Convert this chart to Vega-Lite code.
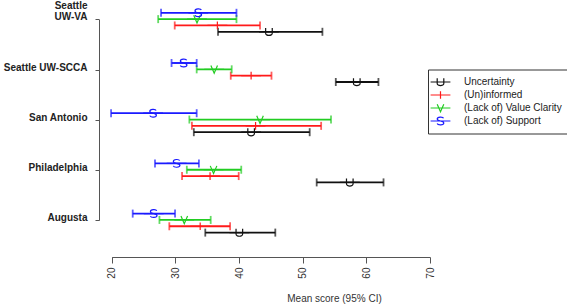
{
  "$schema": "https://vega.github.io/schema/vega-lite/v6.json",
  "width": 344,
  "height": 257,
  "autosize": {"type": "none"},
  "padding": {"left": 99, "top": 0, "right": 124, "bottom": 48},
  "background": "white",
  "config": {"view": {"stroke": null}, "font": "Liberation Sans"},
  "data": {
    "values": [
      {"site": "Seattle UW-VA", "series": "Uncertainty", "mean": 44.7, "lo": 36.7, "hi": 53.1},
      {"site": "Seattle UW-VA", "series": "(Un)informed", "mean": 36.6, "lo": 29.9, "hi": 43.3},
      {"site": "Seattle UW-VA", "series": "(Lack of) Value Clarity", "mean": 33.4, "lo": 27.3, "hi": 39.6},
      {"site": "Seattle UW-VA", "series": "(Lack of) Support", "mean": 33.6, "lo": 27.75, "hi": 39.6},
      {"site": "Seattle UW-SCCA", "series": "Uncertainty", "mean": 58.5, "lo": 55.2, "hi": 61.9},
      {"site": "Seattle UW-SCCA", "series": "(Un)informed", "mean": 41.9, "lo": 38.7, "hi": 45.1},
      {"site": "Seattle UW-SCCA", "series": "(Lack of) Value Clarity", "mean": 36.1, "lo": 33.35, "hi": 38.85},
      {"site": "Seattle UW-SCCA", "series": "(Lack of) Support", "mean": 31.3, "lo": 29.4, "hi": 33.35},
      {"site": "San Antonio", "series": "Uncertainty", "mean": 41.9, "lo": 32.9, "hi": 51.1},
      {"site": "San Antonio", "series": "(Un)informed", "mean": 42.6, "lo": 32.6, "hi": 52.9},
      {"site": "San Antonio", "series": "(Lack of) Value Clarity", "mean": 43.3, "lo": 32.2, "hi": 54.45},
      {"site": "San Antonio", "series": "(Lack of) Support", "mean": 26.5, "lo": 19.9, "hi": 33.35},
      {"site": "Philadelphia", "series": "Uncertainty", "mean": 57.4, "lo": 52.2, "hi": 62.7},
      {"site": "Philadelphia", "series": "(Un)informed", "mean": 35.45, "lo": 31.05, "hi": 39.95},
      {"site": "Philadelphia", "series": "(Lack of) Value Clarity", "mean": 36.0, "lo": 31.8, "hi": 40.35},
      {"site": "Philadelphia", "series": "(Lack of) Support", "mean": 30.2, "lo": 26.8, "hi": 33.7},
      {"site": "Augusta", "series": "Uncertainty", "mean": 40.05, "lo": 34.7, "hi": 45.7},
      {"site": "Augusta", "series": "(Un)informed", "mean": 33.9, "lo": 29.05, "hi": 38.6},
      {"site": "Augusta", "series": "(Lack of) Value Clarity", "mean": 31.4, "lo": 27.5, "hi": 35.55},
      {"site": "Augusta", "series": "(Lack of) Support", "mean": 26.6, "lo": 23.3, "hi": 29.95}
    ]
  },
  "encoding": {
    "y": {
      "field": "site",
      "type": "nominal",
      "scale": {
        "type": "point",
        "domain": ["Seattle UW-VA", "Seattle UW-SCCA", "San Antonio", "Philadelphia", "Augusta"],
        "range": [19.3, 220.1],
        "padding": 0
      },
      "axis": {
        "title": null,
        "domainColor": "#555",
        "tickColor": "#555",
        "tickSize": 4,
        "labelPadding": 8,
        "labelFontSize": 10,
        "labelFontWeight": "bold",
        "labelColor": "#222",
        "labelBaseline": "alphabetic",
        "labelOffset": {"condition": {"test": "datum.value === 'Seattle UW-VA'", "value": -10.5}, "value": 0.5},
        "labelExpr": "datum.value === 'Seattle UW-VA' ? ['Seattle', 'UW-VA'] : datum.value",
        "labelLineHeight": 11,
        "labelLimit": 200
      }
    },
    "yOffset": {
      "field": "series",
      "type": "nominal",
      "scale": {
        "type": "point",
        "domain": ["Uncertainty", "(Un)informed", "(Lack of) Value Clarity", "(Lack of) Support"],
        "range": [12.5, -6.5],
        "padding": 0
      }
    },
    "color": {
      "field": "series",
      "type": "nominal",
      "scale": {
        "domain": ["Uncertainty", "(Un)informed", "(Lack of) Value Clarity", "(Lack of) Support"],
        "range": ["#111111", "#ff1a1a", "#22cc22", "#1a1aff"]
      },
      "legend": {
        "title": null,
        "orient": "none",
        "legendX": 329,
        "legendY": 69.5,
        "padding": 6,
        "strokeColor": "#333",
        "symbolSize": 121,
        "symbolStrokeWidth": 1.2,
        "labelFontSize": 10,
        "labelFont": "Liberation Sans",
        "labelColor": "#222",
        "labelOffset": 17,
        "rowPadding": 0,
        "labelLimit": 300,
        "encode": {"symbols": {"update": {"fillOpacity": {"value": 0}, "fill": {"value": "transparent"}}}}
      }
    }
  },
  "layer": [
    {
      "mark": {"type": "rule", "strokeWidth": 1.8},
      "encoding": {
        "x": {
          "field": "lo",
          "type": "quantitative",
          "scale": {"domain": [20, 70], "range": [12.7, 331], "nice": false, "zero": false},
          "axis": {
            "title": "Mean score (95% CI)",
            "values": [20, 30, 40, 50, 60, 70],
            "grid": false,
            "tickSize": 6,
            "labelAngle": 270,
            "labelPadding": 4,
            "labelFontSize": 10,
            "labelColor": "#333",
            "labelFlush": false,
            "domainColor": "#555",
            "tickColor": "#555",
            "titleFontSize": 10,
            "titleFontWeight": "normal",
            "titleColor": "#333",
            "titleX": 235,
            "titleY": 44,
            "titleBaseline": "alphabetic",
            "titleAlign": "center"
          }
        },
        "x2": {"field": "hi"}
      }
    },
    {
      "mark": {"type": "tick", "size": 8, "thickness": 1.8},
      "encoding": {"x": {"field": "lo", "type": "quantitative"}}
    },
    {
      "mark": {"type": "tick", "size": 8, "thickness": 1.8},
      "encoding": {"x": {"field": "hi", "type": "quantitative"}}
    },
    {
      "mark": {"type": "point", "filled": false, "fill": "transparent", "fillOpacity": 0, "size": 121, "strokeWidth": 1.2, "opacity": 1},
      "encoding": {
        "x": {"field": "mean", "type": "quantitative"},
        "shape": {
          "field": "series",
          "type": "nominal",
          "scale": {
            "domain": ["Uncertainty", "(Un)informed", "(Lack of) Value Clarity", "(Lack of) Support"],
            "range": [
              "M-1.8,0L1.8,0M-0.6,-0.7L-0.6,0.25C-0.6,0.8 0.6,0.8 0.6,0.25L0.6,-0.7",
              "M-1.8,0L1.8,0M0,-0.7L0,0.7",
              "M-1.8,0L1.8,0M-0.6,-0.7L0,0.7L0.6,-0.7",
              "M-1.8,0L1.8,0M0.55,-0.5C0.45,-0.8 -0.6,-0.8 -0.6,-0.35C-0.6,0.05 0.6,-0.05 0.6,0.35C0.6,0.8 -0.5,0.8 -0.6,0.45"
            ]
          },
          "legend": {
            "title": null,
            "orient": "none",
            "legendX": 329,
            "legendY": 69.5,
            "padding": 6,
            "strokeColor": "#333",
            "symbolSize": 121,
            "symbolStrokeWidth": 1.2,
            "labelFontSize": 10,
            "labelFont": "Liberation Sans",
            "labelColor": "#222",
            "labelOffset": 17,
            "rowPadding": 0,
            "labelLimit": 300,
            "encode": {"symbols": {"update": {"fillOpacity": {"value": 0}, "fill": {"value": "transparent"}}}}
          }
        }
      }
    }
  ]
}
